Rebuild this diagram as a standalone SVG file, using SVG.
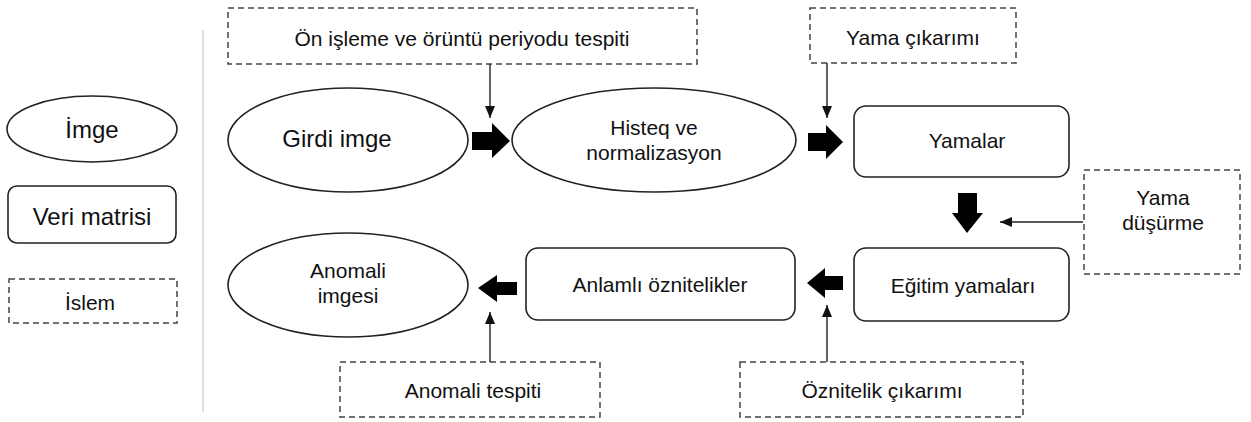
<svg xmlns="http://www.w3.org/2000/svg" width="1251" height="422" viewBox="0 0 1251 422">
<style>
.sh{fill:#fff;stroke:#222;stroke-width:1.6}
.pr{fill:#fff;stroke:#444;stroke-width:1.5;stroke-dasharray:6 4}
.t{font-family:"Liberation Sans",Arial,sans-serif;font-size:21px;fill:#111;text-anchor:middle;dominant-baseline:central}
.thin{stroke:#222;stroke-width:1.4;fill:none;marker-end:url(#ah)}
.fat{fill:#000}
</style>
<defs>
<marker id="ah" viewBox="0 0 12 10" refX="12" refY="5" markerWidth="12" markerHeight="10" markerUnits="userSpaceOnUse" orient="auto">
<path d="M0,0 L12,5 L0,10 z" fill="#111"/>
</marker>
</defs>
<rect width="1251" height="422" fill="#fff"/>
<line x1="203" y1="30" x2="203" y2="412" stroke="#ccc" stroke-width="1.2"/>
<g id="legend-imge"><ellipse class="sh" cx="92" cy="129" rx="85" ry="33"/><text class="t" x="92" y="129" style="font-size:24px">İmge</text></g>
<g id="legend-veri"><rect class="sh" x="8" y="186" width="168" height="57" rx="9"/><text class="t" x="92" y="216" style="font-size:24px">Veri matrisi</text></g>
<g id="legend-islem"><rect class="pr" x="9" y="279" width="168" height="44"/><text class="t" x="90" y="302">İslem</text></g>
<g id="on-isleme"><rect class="pr" x="228" y="8" width="469" height="56"/><text class="t" x="462" y="38">Ön işleme ve örüntü periyodu tespiti</text></g>
<g id="yama-cikarimi"><rect class="pr" x="810" y="8" width="206" height="55"/><text class="t" x="913" y="37">Yama çıkarımı</text></g>
<g id="girdi"><ellipse class="sh" cx="348" cy="140" rx="120" ry="52"/><text class="t" x="337" y="138" style="font-size:24px">Girdi imge</text></g>
<g id="histeq"><ellipse class="sh" cx="654" cy="140" rx="142" ry="52"/><text class="t" x="654" y="127">Histeq ve</text><text class="t" x="654" y="152">normalizasyon</text></g>
<g id="yamalar"><rect class="sh" x="854" y="106" width="215" height="71" rx="12"/><text class="t" x="967" y="140">Yamalar</text></g>
<g id="yama-dusurme"><rect class="pr" x="1084" y="170" width="156" height="104"/><text class="t" x="1163" y="197">Yama</text><text class="t" x="1163" y="222">düşürme</text></g>
<g id="egitim"><rect class="sh" x="854" y="248" width="215" height="73" rx="12"/><text class="t" x="963" y="285">Eğitim yamaları</text></g>
<g id="anlamli"><rect class="sh" x="526" y="248" width="269" height="72" rx="12"/><text class="t" x="660" y="284">Anlamlı öznitelikler</text></g>
<g id="anomali-imgesi"><ellipse class="sh" cx="348" cy="285" rx="120" ry="52"/><text class="t" x="348" y="270">Anomali</text><text class="t" x="348" y="295">imgesi</text></g>
<g id="oznitelik-cikarimi"><rect class="pr" x="740" y="362" width="283" height="55"/><text class="t" x="882" y="390">Öznitelik çıkarımı</text></g>
<g id="anomali-tespiti"><rect class="pr" x="340" y="362" width="260" height="55"/><text class="t" x="473" y="390">Anomali tespiti</text></g>
<g id="connectors">
<path class="fat" d="M472,132 L492,132 L492,123 L510,141 L492,158 L492,150 L472,150 z"/>
<path class="fat" d="M808,133 L826,133 L826,125 L843,142 L826,159 L826,151 L808,151 z"/>
<path class="fat" d="M958,193 L977,193 L977,213 L983,213 L967,233 L952,213 L958,213 z"/>
<path class="fat" d="M843,276 L825,276 L825,268 L807,283 L825,298 L825,290 L843,290 z"/>
<path class="fat" d="M517,282 L497,282 L497,275 L478,288 L497,302 L497,295 L517,295 z"/>
<line class="thin" x1="490" y1="64" x2="490" y2="118"/>
<line class="thin" x1="827" y1="63" x2="827" y2="118"/>
<line class="thin" x1="1083" y1="222" x2="1000" y2="222"/>
<line class="thin" x1="827" y1="362" x2="827" y2="305"/>
<line class="thin" x1="490" y1="362" x2="490" y2="312"/>
</g>
</svg>
